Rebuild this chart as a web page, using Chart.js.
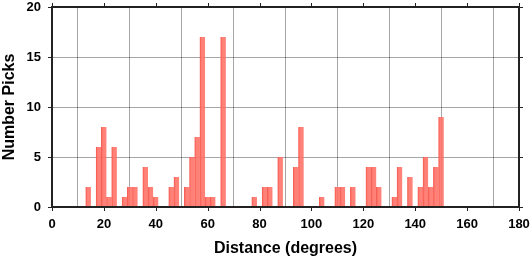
<!DOCTYPE html>
<html>
<head>
<meta charset="utf-8">
<script src="https://cdn.jsdelivr.net/npm/chart.js@4.4.0/dist/chart.umd.min.js"></script>
<style>
html,body{margin:0;padding:0;background:#fff;}
#wrap{width:530px;height:258px;position:relative;}
</style>
</head>
<body>
<div id="wrap"><canvas id="c" width="530" height="258"></canvas></div>
<script>
// Histogram bin centres (degrees, 2-degree bins) and pick counts
const binCenters = [14,18,20,22,24,28,30,32,36,38,40,46,48,52,54,56,58,60,62,66,78,82,84,88,94,96,104,110,112,116,122,124,126,132,134,138,142,144,146,148,150];
const pickCounts = [2,6,8,1,6,1,2,2,4,2,1,2,3,2,5,7,17,1,1,17,1,2,2,5,4,8,1,2,2,2,4,4,2,1,4,3,2,5,2,4,9];
const xTicks = [0,20,40,60,80,100,120,140,160,180];
const yTicks = [0,5,10,15,20];

const FONT = "'Liberation Sans', Arial, sans-serif";

const framePlugin = {
  id: 'frame',
  afterDatasetsDraw(chart) {
    const {ctx, chartArea: a, scales} = chart;
    ctx.save();
    ctx.strokeStyle = '#222';
    ctx.lineWidth = 2;
    ctx.strokeRect(a.left, a.top, a.right - a.left, a.bottom - a.top);
    ctx.lineWidth = 1;
    ctx.beginPath();
    xTicks.forEach(v => {
      const px = Math.round(scales.x.getPixelForValue(v)) + 0.5;
      ctx.moveTo(px, a.bottom); ctx.lineTo(px, a.bottom + 4);
      ctx.moveTo(px, a.top); ctx.lineTo(px, a.top - 4);
    });
    yTicks.forEach(v => {
      const py = Math.round(scales.y.getPixelForValue(v)) + 0.5;
      ctx.moveTo(a.left, py); ctx.lineTo(a.left - 4, py);
      ctx.moveTo(a.right, py); ctx.lineTo(a.right + 4, py);
    });
    ctx.stroke();
    ctx.restore();
  }
};

new Chart(document.getElementById('c'), {
  type: 'bar',
  data: {
    datasets: [{
      data: binCenters.map((x, i) => ({x: x, y: pickCounts[i]})),
      backgroundColor: 'rgba(255,112,100,0.88)',
      borderColor: 'rgba(245,80,70,0.9)',
      borderWidth: {left: 1, right: 0, top: 0, bottom: 0},
      barPercentage: 1.0,
      categoryPercentage: 1.0,
      grouped: false
    }]
  },
  options: {
    responsive: false,
    animation: false,
    devicePixelRatio: 1,
    layout: {autoPadding: false, padding: {top: 7, right: 11, left: 0, bottom: 0}},
    plugins: {legend: {display: false}, tooltip: {enabled: false}},
    scales: {
      x: {
        type: 'linear',
        min: 0, max: 180,
        offset: false,
        afterBuildTicks: s => { s.ticks = xTicks.map(v => ({value: v})); },
        afterFit: s => { s.height = 51; s.paddingLeft = 0; s.paddingRight = 0; s.paddingTop = 0; s.paddingBottom = 0; },
        grid: {color: 'rgba(0,0,0,0.35)', lineWidth: 1, drawTicks: false},
        border: {display: false},
        ticks: {color: '#000', font: {family: FONT, size: 13, weight: 'bold'}, padding: 10, maxRotation: 0},
        title: {display: true, text: 'Distance (degrees)', color: '#000', font: {family: FONT, size: 16, weight: 'bold'}, padding: {top: 5, bottom: 0}}
      },
      y: {
        min: 0, max: 20,
        afterBuildTicks: s => { s.ticks = yTicks.map(v => ({value: v})); },
        afterFit: s => { s.width = 52; s.paddingLeft = 0; s.paddingRight = 0; s.paddingTop = 0; s.paddingBottom = 0; },
        grid: {color: 'rgba(0,0,0,0.35)', lineWidth: 1, drawTicks: false},
        border: {display: false},
        ticks: {color: '#000', font: {family: FONT, size: 13, weight: 'bold'}, padding: 11},
        title: {display: true, text: 'Number Picks', color: '#000', font: {family: FONT, size: 16, weight: 'bold'}, padding: {top: 0, bottom: 4}}
      }
    }
  },
  plugins: [framePlugin]
});
</script>
</body>
</html>
